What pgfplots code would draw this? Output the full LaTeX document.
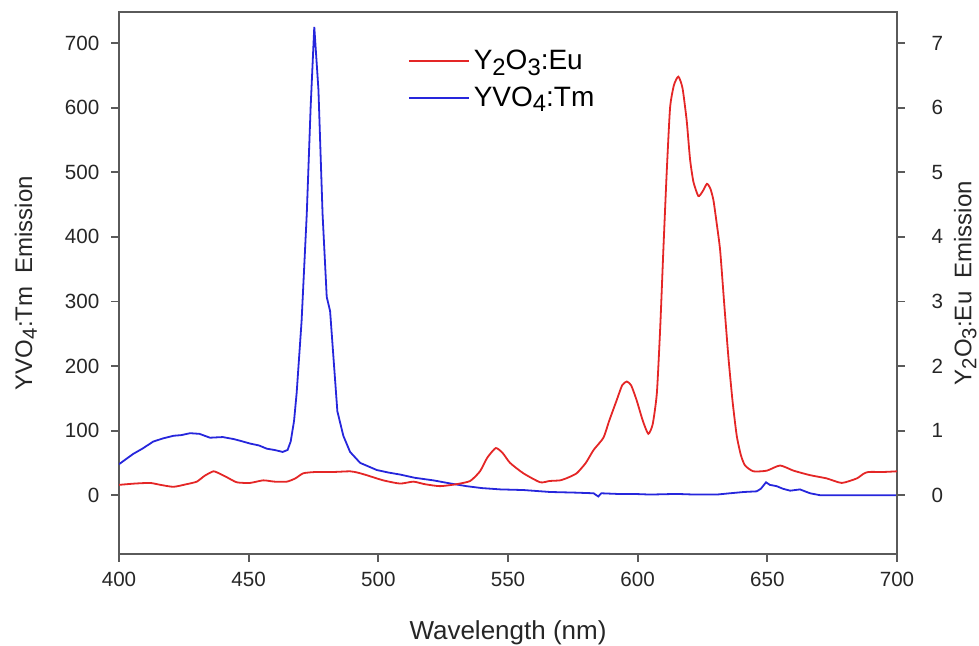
\documentclass[border=0pt]{standalone}
\usepackage{pgfplots}
\pgfplotsset{compat=1.18}
\usepackage{fontspec}
\setmainfont{Liberation Sans}
\definecolor{cred}{RGB}{228,38,38}
\definecolor{cblue}{RGB}{38,38,220}
\definecolor{axgray}{RGB}{90,90,90}
\newcommand\sub[1]{\raisebox{-0.38ex}{\scalebox{0.85}{#1}}}
\begin{document}
\begin{tikzpicture}
\useasboundingbox (-59.5pt,-46pt) rectangle (430pt,277pt);
\pgfplotsset{
  common/.style={
    at={(0pt,0pt)}, anchor=south west,
    width=389pt, height=271pt, scale only axis,
    xmin=400, xmax=700,
    tick align=outside,
    major tick length=3.8pt,
    axis line style={axgray, line width=0.9pt},
    every tick/.style={axgray, line width=0.9pt},
    tick label style={font=\fontsize{10.3}{12}\selectfont, text=black!85},
    /pgf/number format/assume math mode=true,
    label style={font=\fontsize{12}{14}\selectfont, text=black!85},
  }
}
\begin{axis}[common,
  ymin=-91, ymax=748,
  xtick={400,450,...,700},
  ytick={0,100,...,700},
  xtick pos=bottom, ytick pos=left,
  xticklabel style={yshift=-1.5pt},
  yticklabel style={xshift=-2.5pt},
  xlabel={\fontsize{13}{15}\selectfont Wavelength (nm)},
  ylabel={YVO\sub{4}:Tm\ \ Emission},
  xlabel style={at={(axis description cs:0.5,0)}, anchor=north, yshift=-30pt},
  ylabel style={at={(axis description cs:0,0.5)}, anchor=south, yshift=37.5pt},
]
\addplot[cblue, line width=0.9pt] coordinates {
(400,48)(405.5,64)(409,72)(413.2,83)(417,88)(421,92)(424,93)(427.4,96)(431,95)(435.1,89)(440,90)(444.1,87)(447,84)(450.5,80)(454,77)(457,72)(460,70)(463.1,67)(465,70)(466.2,83)(467.5,115)(468.5,158)(470.4,269)(472.4,435)(473.9,601)(475.3,725)(476.9,628)(478.5,435)(480.1,307)(481.4,285)(482.7,213)(484.2,130)(486.5,92)(489.1,67)(493,50)(499.4,39)(504,35)(508.4,32)(514,27)(521.2,23)(528,18)(534,14)(540,11)(547,9)(556,8)(566.2,5)(576,4)(583,3)(584.8,-2)(586,3)(592,2)(598.3,2)(604.8,1)(615,2)(622,1)(630.5,1)(635.6,3)(641,5)(645.9,6)(647.5,10)(649.5,20)(651,16)(653.6,14)(656,10)(658.8,7)(662.6,9)(664.5,6)(666.5,3)(670.3,0)(685,0)(700,0)
};
\end{axis}
\begin{axis}[common,
  ymin=-0.91, ymax=7.48,
  ytick={0,1,...,7},
  hide x axis,
  axis y line*=right,
  ytick pos=right,
  yticklabel style={xshift=10pt},
  ylabel={Y\sub{2}O\sub{3}:Eu\ \ Emission},
  ylabel style={at={(axis description cs:1,0.5)}, anchor=north, yshift=-25pt},
  legend style={at={(axis description cs:0.363,0.945)}, anchor=north west, draw=none, fill=none,
    font=\fontsize{14}{16}\selectfont, row sep=3pt},
  legend cell align=left,
  legend image code/.code={\draw[line width=1pt,#1] (0pt,0.25pt) -- (30pt,0.25pt);},
]
\addlegendimage{cred}
\addlegendentry{Y\sub{2}O\sub{3}:Eu}
\addlegendimage{cblue}
\addlegendentry{YVO\sub{4}:Tm}
\addplot[cred, line width=0.9pt, smooth, tension=0.35, forget plot] coordinates {
(400,0.16)(406,0.18)(412,0.19)(416,0.16)(421,0.13)(426,0.17)(430,0.21)(433,0.3)(436.4,0.37)(439,0.33)(441.5,0.28)(445.4,0.2)(450.5,0.19)(455.6,0.23)(460,0.21)(464.7,0.21)(468,0.26)(471.1,0.34)(476.2,0.36)(483,0.36)(489.1,0.37)(492,0.35)(495.5,0.31)(501.9,0.23)(508.4,0.18)(513.5,0.21)(518,0.17)(523.8,0.14)(530,0.17)(535.4,0.22)(539.2,0.37)(542,0.58)(545.3,0.73)(548,0.65)(550.8,0.5)(555.9,0.34)(562.4,0.2)(566,0.22)(570.1,0.23)(573,0.27)(576.5,0.34)(580,0.5)(583,0.7)(586.8,0.89)(589,1.15)(591.9,1.47)(594,1.7)(595.8,1.76)(597.5,1.7)(599.6,1.47)(602,1.15)(604.1,0.95)(605.8,1.1)(607.4,1.58)(608.7,2.6)(609.9,3.79)(611.2,5.0)(612.5,6.0)(614,6.35)(615.7,6.48)(617.3,6.3)(618.9,5.8)(620.2,5.2)(621.5,4.85)(623.4,4.63)(625,4.7)(626.7,4.82)(628,4.75)(629.2,4.57)(630.5,4.2)(631.8,3.79)(633.4,2.95)(635,2.13)(636.6,1.45)(638.2,0.92)(639.8,0.62)(641.4,0.46)(644.6,0.37)(649.8,0.38)(654.9,0.46)(660.1,0.38)(666.5,0.31)(672.9,0.26)(678.7,0.19)(684.5,0.26)(687,0.33)(689,0.36)(695,0.36)(700,0.37)
};
\end{axis}
\end{tikzpicture}
\end{document}
